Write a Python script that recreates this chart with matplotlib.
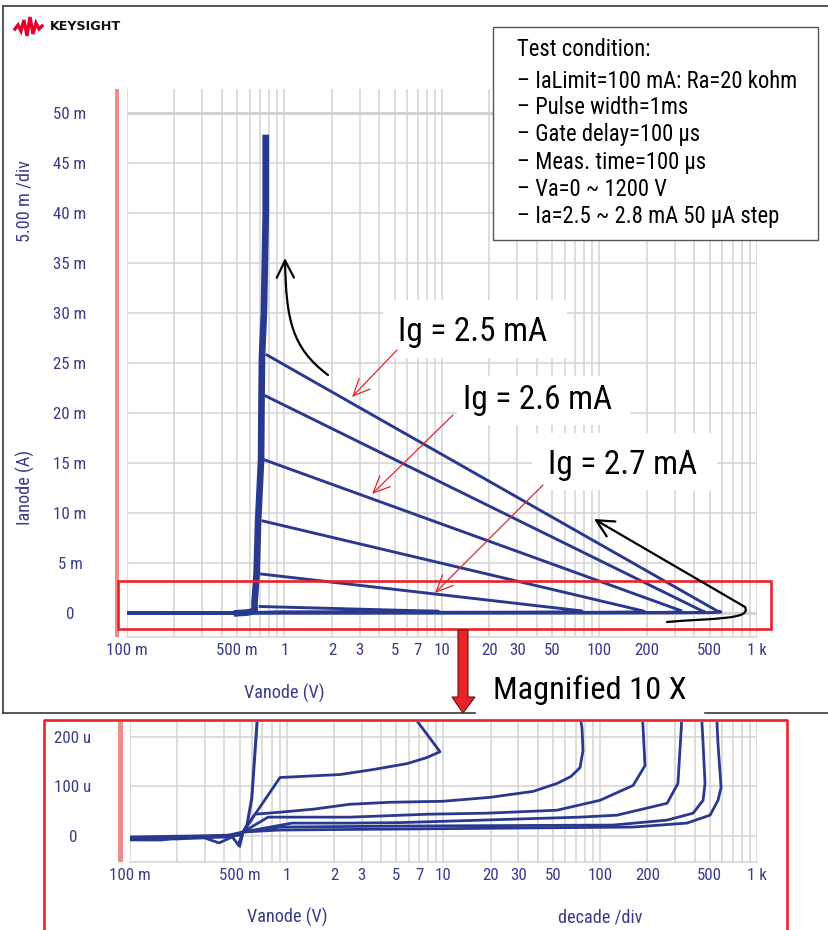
import matplotlib
matplotlib.use('Agg')
import matplotlib.pyplot as plt
from matplotlib.patches import Rectangle, FancyArrowPatch, Polygon
from matplotlib.path import Path
from matplotlib.lines import Line2D
from matplotlib.ticker import NullFormatter
from matplotlib import font_manager
from matplotlib.font_manager import FontProperties

# ---------------- data ----------------
x_ticks = [0.1, 0.5, 1, 2, 3, 5, 7, 10, 20, 30, 50, 100, 200, 500, 1000]
x_tick_labels = ['100 m', '500 m', '1', '2', '3', '5', '7', '10', '20', '30',
                 '50', '100', '200', '500', '1 k']
top_y_ticks = [0, 5e-3, 10e-3, 15e-3, 20e-3, 25e-3, 30e-3, 35e-3, 40e-3, 45e-3, 50e-3]
top_y_labels = ['0', '5 m', '10 m', '15 m', '20 m', '25 m', '30 m', '35 m', '40 m', '45 m', '50 m']
bot_y_ticks = [0, 100e-6, 200e-6]
bot_y_labels = ['0', '100 u', '200 u']

# on-state (latched) trace, Vanode [V] / Ianode [A]
on_v = [0.50, 0.526, 0.558, 0.598, 0.646, 0.645, 0.665, 0.68, 0.71, 0.715,
        0.72, 0.74, 0.75, 0.76, 0.76]
on_i = [-20e-6, 8e-6, 22e-6, 76e-6, 228e-6, 1.0e-3, 3.9e-3, 9.2e-3, 15.3e-3, 21.7e-3,
        25.8e-3, 30e-3, 35e-3, 40e-3, 47.5e-3]

# Ig sweeps: blocking part, then the jump to the on-state point
a_v = [0.10, 0.19, 0.40, 0.526, 0.906, 2.19, 3.55, 5.85, 7.8, 9.5, 0.70]
a_i = [-4e-6, -4e-6, 0, 8e-6, 118e-6, 124e-6, 134e-6, 146e-6, 158e-6, 170e-6, 0.65e-3]

b_v = [0.10, 0.20, 0.45, 0.526, 0.627, 0.906, 1.47, 2.53, 4.53, 9.9, 19.8, 37.3,
       53, 65, 74.3, 77.6, 76.5, 0.71]
b_i = [-6e-6, -6e-6, 0, 8e-6, 44e-6, 48e-6, 54e-6, 64e-6, 68e-6, 70e-6, 78e-6, 90e-6,
       106e-6, 120e-6, 138e-6, 172e-6, 218e-6, 3.9e-3]

c_v = [0.10, 0.30, 0.37, 0.526, 0.76, 2.53, 8.1, 18.9, 53, 99.6, 162, 193, 187, 0.73]
c_i = [-4e-6, -4e-6, -14e-6, 8e-6, 38e-6, 38e-6, 44e-6, 46e-6, 52e-6, 72e-6, 102e-6,
       142e-6, 226e-6, 9.2e-3]

d_v = [0.10, 0.16, 0.20, 0.45, 0.49, 0.526, 1.08, 2.53, 5.28, 74, 128, 267, 313, 330, 0.75]
d_i = [-8e-6, -8e-6, -4e-6, -2e-6, -18e-6, 8e-6, 26e-6, 26e-6, 27e-6, 38e-6, 42e-6,
       66e-6, 106e-6, 226e-6, 15.3e-3]

e_v = [0.10, 0.30, 0.50, 0.526, 0.90, 5.28, 120, 267, 391, 453, 466, 453, 446, 0.76]
e_i = [-4e-6, -2e-6, 2e-6, 8e-6, 18e-6, 20e-6, 22e-6, 32e-6, 46e-6, 72e-6, 106e-6,
       186e-6, 226e-6, 21.7e-3]

f_v = [0.10, 0.25, 0.50, 0.526, 0.90, 5.28, 162, 357, 502, 564, 590, 564, 556, 0.774]
f_i = [-2e-6, 0, 2e-6, 8e-6, 12e-6, 14e-6, 18e-6, 26e-6, 42e-6, 72e-6, 98e-6,
       186e-6, 226e-6, 25.8e-3]

sweeps = [(a_v, a_i), (b_v, b_i), (c_v, c_i), (d_v, d_i), (e_v, e_i), (f_v, f_i)]

conditions = ['Test condition:',
              '\u2013 IaLimit=100 mA: Ra=20 kohm',
              '\u2013 Pulse width=1ms',
              '\u2013 Gate delay=100 \u00b5s',
              '\u2013 Meas. time=100 \u00b5s',
              '\u2013 Va=0 ~ 1200 V',
              '\u2013 Ia=2.5 ~ 2.8 mA 50 \u00b5A step']
ig_labels = ['Ig = 2.5 mA', 'Ig = 2.6 mA', 'Ig = 2.7 mA']

# ---------------- fonts ----------------
def find_narrow():
    entries = font_manager.fontManager.ttflist

    def regular(f):
        return f.style == 'normal' and f.weight in (400, 'normal', 'regular', 'book')

    for n in ['Liberation Sans Narrow', 'Arial Narrow', 'DejaVu Sans Condensed',
              'Roboto Condensed', 'Open Sans Condensed', 'Noto Sans Condensed']:
        for f in entries:
            if f.name == n and regular(f):
                return f.fname
    for fam in ['Noto Sans', 'Roboto', 'Open Sans', 'DejaVu Sans', 'Lato', 'Inter']:
        for f in entries:
            if (f.name == fam and regular(f)
                    and f.stretch in ('condensed', 'semi-condensed', 'extra-condensed')):
                return f.fname
    for f in entries:
        if regular(f) and ('Condensed' in f.name or 'Narrow' in f.name) and 'CJK' not in f.name:
            return f.fname
    return font_manager.findfont('DejaVu Sans')


NARROW_FILE = find_narrow()

# ---------------- figure ----------------
W, H = 829, 930
fig = plt.figure(figsize=(W / 100, H / 100), dpi=100)
fig.patch.set_facecolor('white')
renderer = fig.canvas.get_renderer()


def fit_fp(s, target_px, max_pt=None):
    fp = FontProperties(fname=NARROW_FILE, size=10)
    w, h, d = renderer.get_text_width_height_descent(s, fp, ismath=False)
    size = 10 * target_px / w
    if max_pt is not None:
        size = min(size, max_pt)
    return FontProperties(fname=NARROW_FILE, size=size)


TICK = '#383c8c'
LINE = '#2a3990'
GRID = '#d3d3d3'
RED = '#e8232a'


def P(x, y):
    return (x / W, 1 - y / H)


def rect_px(x0, y0, x1, y1, **kw):
    r = Rectangle((x0 / W, 1 - y1 / H), (x1 - x0) / W, (y1 - y0) / H,
                  transform=fig.transFigure, **kw)
    fig.add_artist(r)
    return r


def line_px(xs, ys, **kw):
    ln = Line2D([x / W for x in xs], [1 - y / H for y in ys],
                transform=fig.transFigure, **kw)
    fig.add_artist(ln)
    return ln


def text_px(x, y, s, **kw):
    return fig.text(x / W, 1 - y / H, s, **kw)


fp_tick = fit_fp('100 m', 41, max_pt=13)
fp_lab = fit_fp('Vanode (V)', 80, max_pt=14)


def style_axis(ax, ylim, yt, ytl):
    ax.set_xscale('log')
    ax.set_xlim(0.1, 1000)
    ax.set_ylim(*ylim)
    ax.set_xticks(x_ticks, x_tick_labels, fontproperties=fp_tick, color=TICK)
    ax.xaxis.set_minor_formatter(NullFormatter())
    ax.set_yticks(yt, ytl, ha='center', fontproperties=fp_tick, color=TICK)
    ax.tick_params(which='both', length=0)
    ax.tick_params(axis='y', pad=41)
    ax.tick_params(axis='x', pad=4)
    ax.grid(True, which='both', axis='x', color=GRID, lw=1.1)
    ax.grid(True, which='major', axis='y', color=GRID, lw=1.1)
    ax.set_axisbelow(True)
    for s in ax.spines.values():
        s.set_visible(False)
    ax.spines['bottom'].set_visible(True)
    ax.spines['bottom'].set_color(GRID)
    ax.spines['bottom'].set_linewidth(1.1)


# top chart
ax_top = fig.add_axes([127 / W, 1 - 637 / H, 630 / W, 548 / H])
style_axis(ax_top, (-2.4e-3, 52.4e-3), top_y_ticks, top_y_labels)
ax_top.axhline(50e-3, color=GRID, lw=2.2, zorder=0.5)
ax_top.axhline(0, color=GRID, lw=2.2, zorder=0.5)
for v, i in sweeps:
    ax_top.plot(v, i, color=LINE, lw=2.1, zorder=2)
ax_top.plot(on_v, on_i, color=LINE, lw=4.8, zorder=3)

# bottom (magnified) chart
ax_bot = fig.add_axes([130 / W, 1 - 862 / H, 627 / W, 140 / H])
style_axis(ax_bot, (-52.5e-6, 230e-6), bot_y_ticks, bot_y_labels)
for v, i in sweeps:
    ax_bot.plot(v, i, color=LINE, lw=2.0, zorder=2)
ax_bot.plot(on_v, on_i, color=LINE, lw=2.2, zorder=3)

# axis captions
text_px(284, 693, 'Vanode (V)', ha='center', va='center', fontproperties=fp_lab, color=TICK)
text_px(25, 487, 'Ianode (A)', ha='center', va='center', fontproperties=fp_lab, color=TICK,
        rotation=90)
text_px(25, 201, '5.00 m /div', ha='center', va='center', fontproperties=fp_lab, color=TICK,
        rotation=90)
text_px(287, 917, 'Vanode (V)', ha='center', va='center', fontproperties=fp_lab, color=TICK)
text_px(600, 917, 'decade /div', ha='center', va='center', fontproperties=fp_lab, color=TICK)

# pink markers at left of plots
rect_px(115, 89, 119, 637, facecolor='#f28a8a', edgecolor='none')
rect_px(118, 722, 123, 862, facecolor='#f28a8a', edgecolor='none')

# outer frame of top part
FR = '#3a3a3a'
line_px([3, 829], [6, 6], color=FR, lw=1.2)
line_px([3, 3], [6, 713], color=FR, lw=1.2)
line_px([3, 475], [713, 713], color=FR, lw=1.2)
line_px([705, 829], [713, 713], color=FR, lw=1.2)

# red frame of bottom part
line_px([44, 44, 787, 787], [930, 720, 720, 930], color=RED, lw=1.9)

# red highlight rectangle
rect_px(118, 581, 771, 629, facecolor='none', edgecolor=RED, lw=1.9)

# red down arrow
fig.add_artist(Polygon([P(458, 630), P(468, 630), P(468, 697), P(475, 697),
                        P(463, 713), P(452, 697), P(458, 697)],
                       closed=True, transform=fig.transFigure,
                       facecolor=RED, edgecolor='#6a1010', lw=0.8))
fp_mag = fit_fp('Magnified 10 X', 192)
text_px(590, 690, 'Magnified 10 X', ha='center', va='center', fontproperties=fp_mag,
        color='black')

# test-condition box
rect_px(493, 27, 818, 240, facecolor='white', edgecolor='#555555', lw=1.0)
fp_cond = fit_fp(conditions[1], 278)
cond_y = [50, 81, 108, 135, 162, 189, 216]
for s, y in zip(conditions, cond_y):
    text_px(517, y, s, ha='left', va='center', fontproperties=fp_cond, color='black')

# Ig labels with white background
label_boxes = [(383, 300, 567, 358), (457, 376, 630, 425), (532, 433, 717, 490)]
label_pos = [(473, 332), (538, 400), (623, 465)]
fp_ig = fit_fp(ig_labels[0], 148)
for (x0, y0, x1, y1), (lx, ly), s in zip(label_boxes, label_pos, ig_labels):
    rect_px(x0, y0, x1, y1, facecolor='white', edgecolor='none')
    text_px(lx, ly, s, ha='center', va='center', fontproperties=fp_ig, color='black')

# thin red pointer arrows
for (x0, y0), (x1, y1) in [((397, 350), (352, 397)), ((453, 415), (372, 494)),
                           ((543, 485), (435, 593))]:
    fig.add_artist(FancyArrowPatch(posA=P(x0, y0), posB=P(x1, y1),
                                   transform=fig.transFigure,
                                   arrowstyle='->,head_length=0.6,head_width=0.27',
                                   mutation_scale=20, lw=0.9, color=RED,
                                   shrinkA=0, shrinkB=0))

# black curved arrows
p1 = Path([P(328, 375), P(292, 348), P(286, 320), P(285, 258)],
          [Path.MOVETO, Path.CURVE4, Path.CURVE4, Path.CURVE4])
fig.add_artist(FancyArrowPatch(path=p1, transform=fig.transFigure,
                               arrowstyle='->,head_length=0.62,head_width=0.31',
                               mutation_scale=20, lw=1.6, color='black'))
p2 = Path([P(667, 622), P(712, 618), P(752, 620), P(745, 607), P(594, 519)],
          [Path.MOVETO, Path.CURVE4, Path.CURVE4, Path.CURVE4, Path.LINETO])
fig.add_artist(FancyArrowPatch(path=p2, transform=fig.transFigure,
                               arrowstyle='->,head_length=0.62,head_width=0.31',
                               mutation_scale=20, lw=1.6, color='black'))

# Keysight logo
line_px([15, 18, 21, 24, 27, 30, 33, 36, 39, 42],
        [29, 25, 31, 20, 36, 17, 34, 23, 29, 26],
        color='#e4002b', lw=2.4, solid_joinstyle='miter')
text_px(50, 27, 'KEYSIGHT', ha='left', va='center', fontsize=9.2,
        fontweight='bold', family='DejaVu Sans', color='#111111')

fig.savefig('out.png', dpi=100)
